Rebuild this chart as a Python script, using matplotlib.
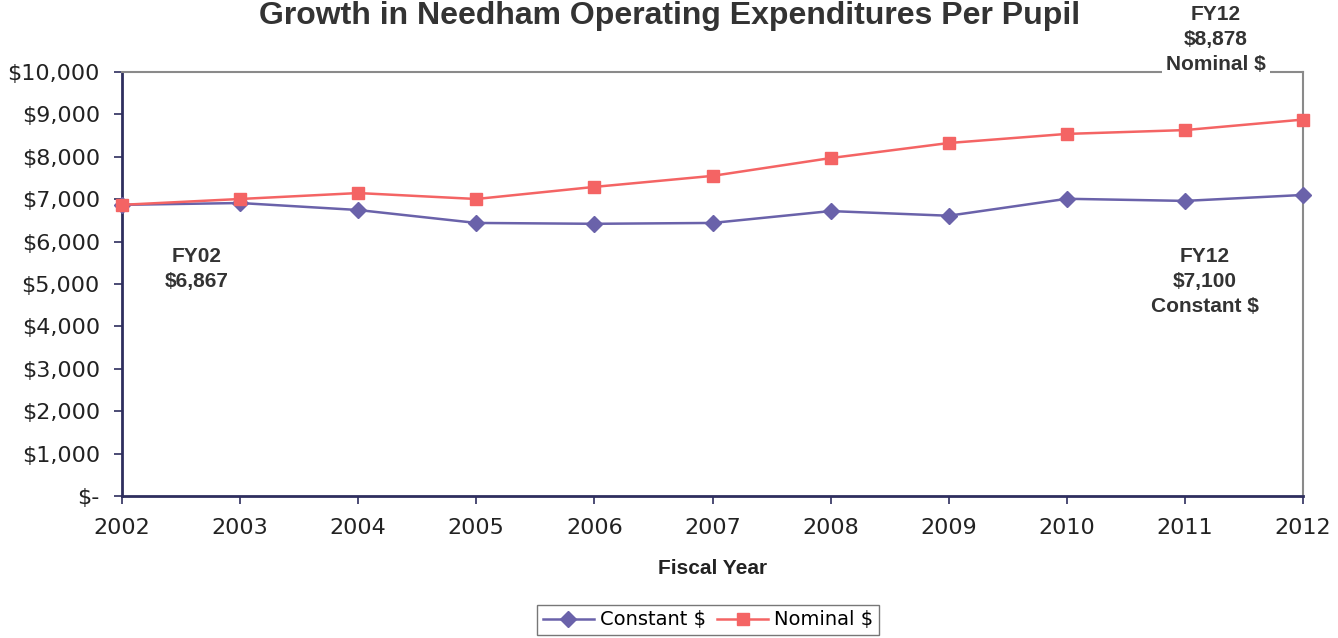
import matplotlib
matplotlib.use("Agg")
import matplotlib.pyplot as plt
from matplotlib.ticker import FuncFormatter

years = [2002, 2003, 2004, 2005, 2006, 2007, 2008, 2009, 2010, 2011, 2012]
constant = [6867, 6910, 6745, 6440, 6420, 6440, 6720, 6610, 7010, 6960, 7100]
nominal = [6867, 7005, 7145, 7005, 7290, 7550, 7970, 8325, 8540, 8630, 8878]
yticks = list(range(0, 10001, 1000))

title = "Growth in Needham Operating Expenditures Per Pupil"

fig = plt.figure(figsize=(13.38, 6.38), dpi=100)
ax = fig.add_axes([122/1338, 1 - 496/638, (1303-122)/1338, (496-72)/638])

c_const = "#6A62AA"
c_nom = "#F46464"

ax.plot(years, constant, color=c_const, marker="D", markersize=8, lw=1.8,
        label="Constant $", clip_on=False, zorder=3)
ax.plot(years, nominal, color=c_nom, marker="s", markersize=9, lw=1.8,
        label="Nominal $", clip_on=False, zorder=3)

ax.set_xlim(2002, 2012)
ax.set_ylim(0, 10000)
ax.set_xticks(years)
ax.set_yticks(yticks)

def fmt(v, pos):
    if v == 0:
        return "$-"
    return "${:,.0f}".format(v)

ax.yaxis.set_major_formatter(FuncFormatter(fmt))
ax.tick_params(axis="both", labelsize=16, length=6, width=1.2)
ax.tick_params(axis="y", pad=10)
ax.tick_params(axis="x", pad=10)
for lab in ax.get_xticklabels() + ax.get_yticklabels():
    lab.set_fontfamily("DejaVu Sans")

for s in ["left", "bottom"]:
    ax.spines[s].set_color("#2E2E5E")
    ax.spines[s].set_linewidth(2)
for s in ["top", "right"]:
    ax.spines[s].set_color("#8A8A8A")
    ax.spines[s].set_linewidth(1.5)
ax.tick_params(colors="#2E2E5E", labelcolor="#222222")

ann = dict(fontsize=15, fontweight="bold", family="Liberation Sans",
           color="#333333", ha="center", va="center", linespacing=1.4)
fig.text(197/1338, 1 - 269/638, "FY02\n${:,}".format(constant[0]), **ann)
fig.text(1205/1338, 1 - 281/638,
         "FY12\n${:,}\nConstant $".format(constant[-1]), **ann)
fig.text(1216/1338, 1 - 40/638,
         "FY12\n${:,}\nNominal $".format(nominal[-1]),
         bbox=dict(facecolor="white", edgecolor="none", pad=3), **ann)

fig.text(670/1338, 1 - 1/638, title, fontsize=23, fontweight="bold",
         family="Liberation Sans", color="#333333", ha="center", va="top")

fig.text(713/1338, 1 - 569/638, "Fiscal Year", fontsize=15, fontweight="bold",
         family="Liberation Sans", color="#222222", ha="center", va="center")

leg = fig.legend(loc="center", bbox_to_anchor=(708/1338, 1 - 620/638), ncol=2,
                 frameon=True, fancybox=False, handlelength=2.6,
                 columnspacing=0.6, handletextpad=0.3, borderpad=0.3,
                 prop={"family": "DejaVu Sans", "size": 14})
leg.get_frame().set_edgecolor("#555555")
leg.get_frame().set_linewidth(1)

fig.savefig("out.png", dpi=100)
